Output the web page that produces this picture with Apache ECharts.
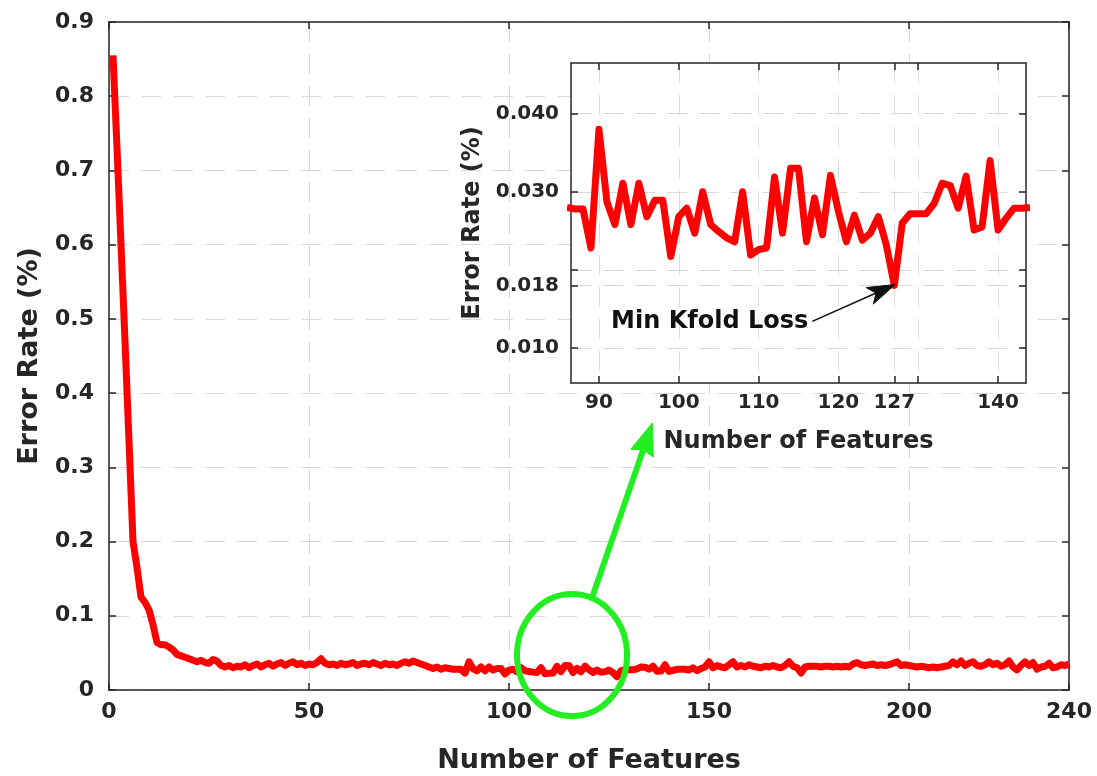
<!DOCTYPE html>
<html>
<head>
<meta charset="utf-8">
<title>Error Rate vs Number of Features</title>
<script src="https://cdn.jsdelivr.net/npm/echarts@6/dist/echarts.min.js"></script>
<style>
  html, body { margin: 0; padding: 0; background: #ffffff; }
  #chart { width: 1097px; height: 776px; }
</style>
</head>
<body>
<div id="chart"></div>
<script>
// ---- data -------------------------------------------------------------
// k-fold error rate for each number of selected features (1..240)
const errorRate = [
  0.855, 0.730, 0.600, 0.470, 0.335, 0.200, 0.165, 0.125, 0.118, 0.108,
  0.088, 0.064, 0.061, 0.061, 0.058, 0.054, 0.048, 0.046, 0.044, 0.042,
  0.040, 0.038, 0.040, 0.037, 0.036, 0.041, 0.039, 0.033, 0.031, 0.033,
  0.030, 0.032, 0.031, 0.034, 0.030, 0.033, 0.035, 0.031, 0.034, 0.036,
  0.032, 0.035, 0.037, 0.033, 0.036, 0.038, 0.034, 0.036, 0.033, 0.035,
  0.034, 0.037, 0.042, 0.036, 0.034, 0.035, 0.033, 0.036, 0.034, 0.035,
  0.037, 0.033, 0.035, 0.036, 0.034, 0.037, 0.035, 0.033, 0.036, 0.034,
  0.035, 0.033, 0.036, 0.038, 0.036, 0.039, 0.037, 0.035, 0.033, 0.031,
  0.029, 0.031, 0.028, 0.030, 0.029, 0.028, 0.0278, 0.0278, 0.0228, 0.0380,
  0.0287, 0.0258, 0.0311, 0.0258, 0.0311, 0.0268, 0.0289, 0.0289, 0.0217, 0.0268,
  0.0279, 0.0247, 0.0300, 0.0258, 0.0249, 0.0241, 0.0236, 0.0300, 0.0219, 0.0226,
  0.0228, 0.0319, 0.0247, 0.0330, 0.0330, 0.0236, 0.0292, 0.0245, 0.0321, 0.0275,
  0.0236, 0.0270, 0.0238, 0.0247, 0.0268, 0.0232, 0.0180, 0.0260, 0.0272, 0.0272,
  0.0272, 0.0285, 0.0311, 0.0308, 0.0279, 0.0320, 0.0251, 0.0255, 0.0340, 0.0251,
  0.0266, 0.0279, 0.0279, 0.028, 0.027, 0.030, 0.026, 0.029, 0.031, 0.038,
  0.030, 0.033, 0.031, 0.030, 0.034, 0.038, 0.031, 0.033, 0.031, 0.034,
  0.032, 0.031, 0.030, 0.032, 0.031, 0.033, 0.031, 0.030, 0.033, 0.038,
  0.032, 0.030, 0.023, 0.031, 0.032, 0.032, 0.032, 0.031, 0.032, 0.032,
  0.031, 0.032, 0.031, 0.032, 0.031, 0.035, 0.037, 0.034, 0.033, 0.034,
  0.035, 0.033, 0.034, 0.033, 0.034, 0.036, 0.038, 0.033, 0.034, 0.033,
  0.032, 0.031, 0.032, 0.031, 0.030, 0.031, 0.030, 0.031, 0.032, 0.033,
  0.038, 0.034, 0.039, 0.033, 0.036, 0.038, 0.033, 0.032, 0.034, 0.038,
  0.034, 0.036, 0.032, 0.034, 0.039, 0.031, 0.027, 0.033, 0.038, 0.033,
  0.037, 0.028, 0.031, 0.032, 0.036, 0.030, 0.031, 0.034, 0.033, 0.035
];
const firstFeature = 1;

// main axes
const mainXRange = [0, 240];
const mainXTicks = [0, 50, 100, 150, 200, 240];
const mainYRange = [0, 0.9];
const mainYStep = 0.1;

// zoomed inset
const zoomXRange = [86.5, 143.5];
const zoomXTicks = [90, 100, 110, 120, 127, 130, 140];
const zoomXLabels = [90, 100, 110, 120, 127, 140];
const zoomYRange = [0.0055, 0.0465];
const zoomYTicks = [0.010, 0.018, 0.020, 0.030, 0.040];
const zoomYLabels = [0.010, 0.018, 0.030, 0.040];

// best subset (minimum k-fold loss)
const bestFeature = 127;

// texts
const xTitle = 'Number of Features';
const yTitle = 'Error Rate (%)';
const noteText = 'Min Kfold Loss';

// ---- chart --------------------------------------------------------------
const FONT = 'DejaVu Sans';
const INK = '#262626';
const LINE_RED = '#ff0000';
const MARK_GREEN = '#22ee22';

const points = errorRate.map((v, i) => [firstFeature + i, v]);
const zoomPoints = points.filter(p => p[0] >= Math.floor(zoomXRange[0]) && p[0] <= Math.ceil(zoomXRange[1]));

const dashed = { show: true, lineStyle: { color: '#d9d9d9', width: 1, type: [20, 12] } };
const frameLine = { show: true, onZero: false, lineStyle: { color: INK, width: 1.5 } };

function tickStyle(values) {
  const t = { show: true, inside: true, length: 7, lineStyle: { color: INK, width: 1.5 } };
  if (values) t.customValues = values;
  return t;
}
function labelStyle(size, margin, values, formatter) {
  const l = { show: true, color: INK, fontFamily: FONT, fontWeight: 'bold', fontSize: size, margin: margin };
  if (values) l.customValues = values;
  if (formatter) l.formatter = formatter;
  return l;
}
function nameStyle(size) {
  return { color: INK, fontFamily: FONT, fontWeight: 'bold', fontSize: size };
}

const chart = echarts.init(document.getElementById('chart'), null, { renderer: 'canvas' });

chart.setOption({
  animation: false,
  backgroundColor: '#ffffff',
  grid: [
    { left: 109, right: 28, top: 22, bottom: 86, outerBoundsMode: 'none' },
    { left: 571, right: 71, top: 63, bottom: 393, outerBoundsMode: 'none',
      show: true, backgroundColor: '#ffffff', borderWidth: 0, z: 10 }
  ],
  xAxis: [
    { // main, bottom
      gridIndex: 0, type: 'value', position: 'bottom',
      min: mainXRange[0], max: mainXRange[1],
      axisLine: frameLine, axisTick: tickStyle(mainXTicks),
      axisLabel: labelStyle(22, 11, mainXTicks),
      splitLine: dashed,
      name: xTitle, nameLocation: 'middle', nameGap: 57, nameTextStyle: nameStyle(27)
    },
    { // main, top frame
      gridIndex: 0, type: 'value', position: 'top',
      min: mainXRange[0], max: mainXRange[1],
      axisLine: frameLine, axisTick: tickStyle(mainXTicks),
      axisLabel: { show: false }, splitLine: { show: false }
    },
    { // inset, bottom
      gridIndex: 1, type: 'value', position: 'bottom', z: 11,
      min: zoomXRange[0], max: zoomXRange[1],
      axisLine: frameLine, axisTick: tickStyle(zoomXTicks),
      axisLabel: labelStyle(20, 10, zoomXLabels),
      splitLine: dashed,
      name: xTitle, nameLocation: 'middle', nameGap: 47, nameTextStyle: nameStyle(24)
    },
    { // inset, top frame
      gridIndex: 1, type: 'value', position: 'top', z: 11,
      min: zoomXRange[0], max: zoomXRange[1],
      axisLine: frameLine, axisTick: tickStyle(zoomXTicks),
      axisLabel: { show: false }, splitLine: { show: false }
    }
  ],
  yAxis: [
    { // main, left
      gridIndex: 0, type: 'value', position: 'left',
      min: mainYRange[0], max: mainYRange[1], interval: mainYStep,
      axisLine: frameLine, axisTick: tickStyle(),
      axisLabel: labelStyle(22, 15),
      splitLine: dashed,
      name: yTitle, nameLocation: 'middle', nameGap: 66, nameTextStyle: nameStyle(27)
    },
    { // main, right frame
      gridIndex: 0, type: 'value', position: 'right',
      min: mainYRange[0], max: mainYRange[1], interval: mainYStep,
      axisLine: frameLine, axisTick: tickStyle(),
      axisLabel: { show: false }, splitLine: { show: false }
    },
    { // inset, left
      gridIndex: 1, type: 'value', position: 'left', z: 11,
      min: zoomYRange[0], max: zoomYRange[1],
      axisLine: frameLine, axisTick: tickStyle(zoomYTicks),
      axisLabel: labelStyle(20, 12, zoomYLabels, v => v.toFixed(3)),
      splitLine: dashed,
      name: yTitle, nameLocation: 'middle', nameGap: 86, nameTextStyle: nameStyle(24)
    },
    { // inset, right frame
      gridIndex: 1, type: 'value', position: 'right', z: 11,
      min: zoomYRange[0], max: zoomYRange[1],
      axisLine: frameLine, axisTick: tickStyle(zoomYTicks),
      axisLabel: { show: false }, splitLine: { show: false }
    }
  ],
  series: [
    {
      name: 'error', type: 'line', xAxisIndex: 0, yAxisIndex: 0,
      data: points, showSymbol: false, clip: true, z: 3,
      lineStyle: { color: LINE_RED, width: 7, join: 'round' }
    },
    {
      name: 'error (zoom)', type: 'line', xAxisIndex: 2, yAxisIndex: 2,
      data: zoomPoints, showSymbol: false, clip: true, z: 12,
      lineStyle: { color: LINE_RED, width: 7, join: 'round' }
    }
  ]
});

// ---- annotations ------------------------------------------------------
function arrow(from, to, color, width, headLen, headHalf, notch) {
  const dx = to[0] - from[0], dy = to[1] - from[1];
  const len = Math.hypot(dx, dy);
  const ux = dx / len, uy = dy / len;
  const nx = -uy, ny = ux;
  const bx = to[0] - ux * headLen, by = to[1] - uy * headLen;
  const notchPt = [to[0] - ux * headLen * (1 - notch), to[1] - uy * headLen * (1 - notch)];
  return [
    { type: 'line', z: 100, silent: true,
      shape: { x1: from[0], y1: from[1], x2: notchPt[0], y2: notchPt[1] },
      style: { stroke: color, lineWidth: width } },
    { type: 'polygon', z: 101, silent: true,
      shape: { points: [to, [bx + nx * headHalf, by + ny * headHalf], notchPt, [bx - nx * headHalf, by - ny * headHalf]] },
      style: { fill: color, stroke: color, lineWidth: 1 } }
  ];
}

// circle around the low-error region of the main curve
const ringCenter = chart.convertToPixel({ seriesIndex: 0 }, [115.75, 0.047]);
const ringR = [55, 61];
// pointer from the ring up to the inset
const ringTop = [ringCenter[0] + ringR[0] * 0.36, ringCenter[1] - ringR[1] * 0.93];
const insetBottom = chart.convertToPixel({ seriesIndex: 1 }, [96.7, zoomYRange[0]]);
const pointerTip = [insetBottom[0], insetBottom[1] + 40];

// note pointing at the best subset in the inset
const bestValue = errorRate[bestFeature - firstFeature];
const bestPx = chart.convertToPixel({ seriesIndex: 1 }, [bestFeature, bestValue]);
const noteTip = [bestPx[0] + 1, bestPx[1] - 1];
const noteTail = [noteTip[0] - 83, noteTip[1] + 37];

chart.setOption({
  graphic: [
    { type: 'ellipse', z: 100, silent: true,
      shape: { cx: ringCenter[0], cy: ringCenter[1], rx: ringR[0], ry: ringR[1] },
      style: { fill: 'none', stroke: MARK_GREEN, lineWidth: 6 } },
    ...arrow(ringTop, pointerTip, MARK_GREEN, 6, 32, 12, 0.12),
    ...arrow(noteTail, noteTip, '#111111', 1.5, 28, 9, 0.25),
    { type: 'text', z: 102, silent: true,
      style: { text: noteText, x: noteTail[0] - 4, y: noteTail[1],
               align: 'right', verticalAlign: 'middle',
               font: 'bold 24px "DejaVu Sans"', fill: '#111111' } }
  ]
});
</script>
</body>
</html>
